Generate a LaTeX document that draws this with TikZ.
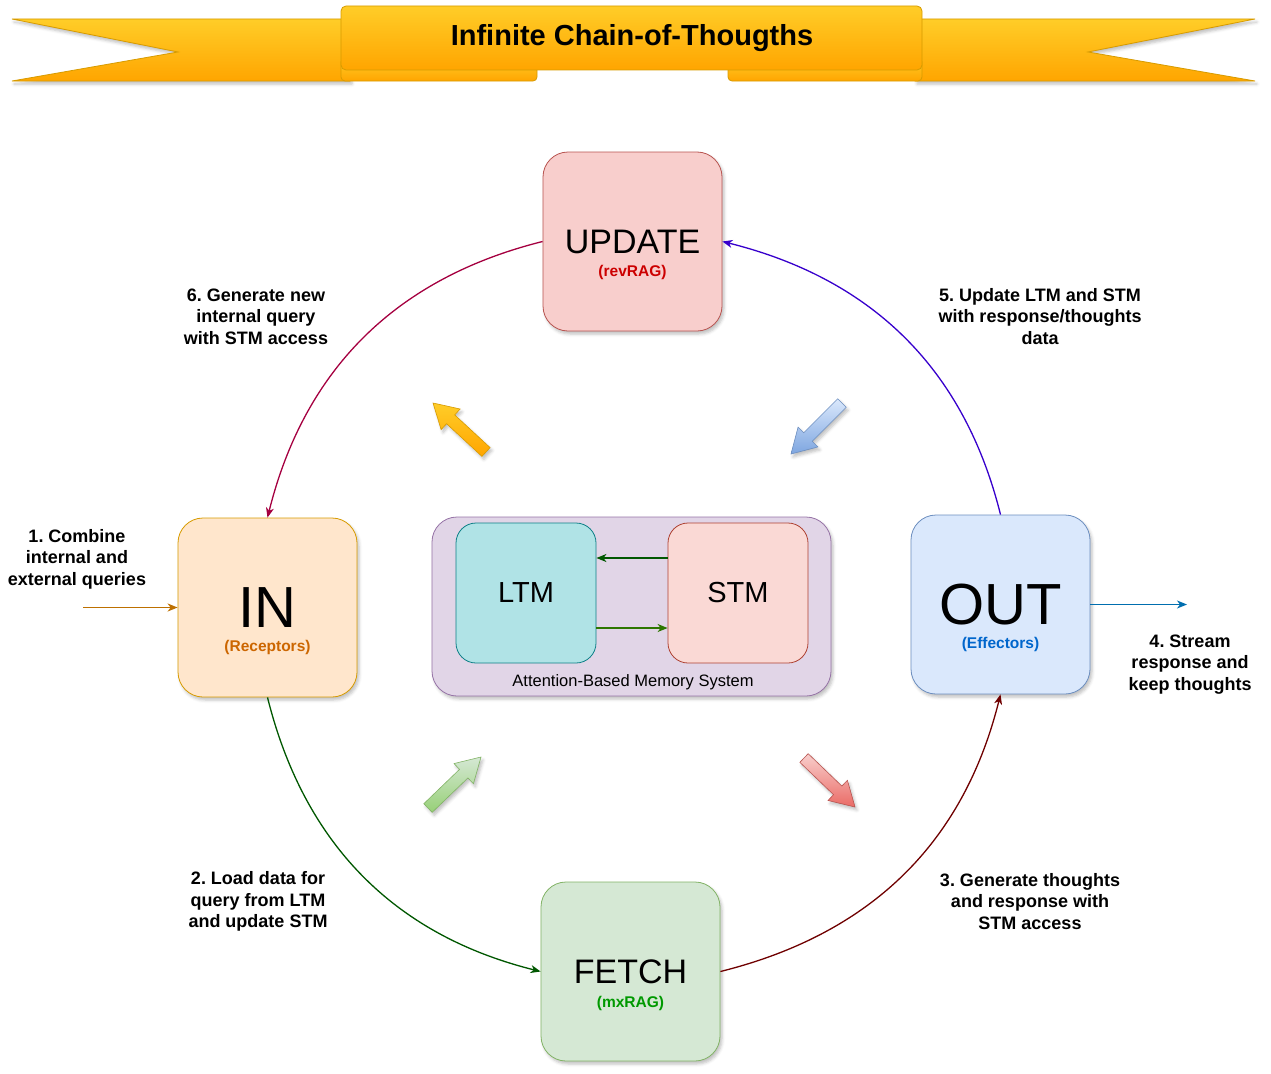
\documentclass[tikz,border=0pt]{standalone}
\usepackage{fontspec}
\setmainfont{Liberation Sans}
\usetikzlibrary{arrows.meta,positioning,calc,shadows.blur}
\frenchspacing

% colours
\definecolor{ribtop}{HTML}{FFCD28}
\definecolor{ribbot}{HTML}{FFA500}
\definecolor{ribline}{HTML}{D79B00}
\definecolor{updfill}{HTML}{F8CECC}
\definecolor{updline}{HTML}{B85450}
\definecolor{infill}{HTML}{FFE6CC}
\definecolor{inline}{HTML}{D79B00}
\definecolor{outfill}{HTML}{DAE8FC}
\definecolor{outline}{HTML}{6C8EBF}
\definecolor{fetfill}{HTML}{D5E8D4}
\definecolor{fetline}{HTML}{82B366}
\definecolor{memfill}{HTML}{E1D5E7}
\definecolor{memline}{HTML}{9673A6}
\definecolor{ltmfill}{HTML}{B0E3E6}
\definecolor{ltmline}{HTML}{0E8088}
\definecolor{stmfill}{HTML}{FAD9D5}
\definecolor{stmline}{HTML}{AE4132}
\definecolor{revred}{HTML}{CC0000}
\definecolor{recorange}{HTML}{CC6600}
\definecolor{effblue}{HTML}{0066CC}
\definecolor{mxgreen}{HTML}{009900}
\definecolor{toin}{HTML}{A50040}
\definecolor{tofetch}{HTML}{005700}
\definecolor{toout}{HTML}{6F0000}
\definecolor{toupd}{HTML}{3700CC}
\definecolor{qincol}{HTML}{BD7000}
\definecolor{qoutcol}{HTML}{006EAF}
\definecolor{memgreen}{HTML}{005700}
\definecolor{memgreenb}{HTML}{2D7600}
\definecolor{bluetop}{HTML}{DAE8FC}
\definecolor{bluebot}{HTML}{7EA6E0}
\definecolor{greentop}{HTML}{D5E8D4}
\definecolor{greenbot}{HTML}{97D077}
\definecolor{redtop}{HTML}{F8CECC}
\definecolor{redbot}{HTML}{EA6B66}

% block arrow from tail #1 to tip #2
\newcommand{\blockarrow}[3]{%
  \coordinate (ba-b) at ($(#2)!24pt!(#1)$);
  \path[#3] ($(#1)!6pt!90:(#2)$) -- ($(ba-b)!6pt!90:(#2)$)
    -- ($(ba-b)!14pt!90:(#2)$) -- (#2) -- ($(ba-b)!14pt!-90:(#2)$)
    -- ($(ba-b)!6pt!-90:(#2)$) -- ($(#1)!6pt!-90:(#2)$) -- cycle;}

\begin{document}
\begin{tikzpicture}[
  x=1pt, y=1pt,
  >={Stealth[length=10pt,width=8pt,inset=3pt]},
  shadowed/.style={blur shadow={shadow xshift=2pt, shadow yshift=-3pt,
      shadow blur radius=3pt, shadow opacity=25}},
  box/.style={draw, rounded corners=25pt, minimum width=179pt, minimum height=179pt,
      line width=0.8pt, inner sep=0pt, shadowed},
  word/.style={font=\fontsize{34}{36}\selectfont},
  bigword/.style={font=\fontsize{58}{60}\selectfont},
  sub/.style={font=\bfseries\fontsize{15.5}{17}\selectfont, inner sep=0pt},
  cell/.style={draw, rounded corners=20pt, minimum width=140pt, minimum height=140pt,
      line width=0.8pt, inner sep=0pt, font=\fontsize{29}{31}\selectfont},
  lbl/.style={font=\bfseries\fontsize{18}{21.5}\selectfont, align=center, inner sep=0pt},
  link/.style={->, line width=1.3pt},
  ribbon/.style={top color=ribtop, bottom color=ribbot, draw=ribline, line width=0.8pt},
  arrowshape/.style={line width=0.6pt, shadowed}
]
  \useasboundingbox (0,0) rectangle (1271,-1073);

  % title banner
  \path[ribbon, shadowed] (12,-19) -- (350,-19) -- (350,-81) -- (12,-81) -- (178,-52) -- cycle;
  \path[ribbon, shadowed] (915,-19) -- (1255,-19) -- (1088,-52) -- (1255,-81) -- (915,-81) -- cycle;
  \path[ribbon, rounded corners=4pt] (341,-58) rectangle (537,-81);
  \path[ribbon, rounded corners=4pt] (728,-58) rectangle (922,-81);
  \path[ribbon, rounded corners=5pt] (341,-6) rectangle (922,-70);
  \node[font=\bfseries\fontsize{29}{31}\selectfont] (title) at (632,-38) {Infinite Chain-of-Thougths};

  % main stages
  \node[box, word, fill=updfill, draw=updline] (update) at (632.5,-241.5) {UPDATE};
  \node[sub, text=revred] (update-sub) at ([yshift=-31pt]update.center) {(revRAG)};
  \node[box, bigword, fill=infill, draw=inline] (in) at (267.5,-607.5) {IN};
  \node[sub, text=recorange] (in-sub) at ([yshift=-40pt]in.center) {(Receptors)};
  \node[box, bigword, fill=outfill, draw=outline] (out) at (1000.5,-604.5) {OUT};
  \node[sub, text=effblue] (out-sub) at ([yshift=-39.5pt]out.center) {(Effectors)};
  \node[box, word, fill=fetfill, draw=fetline] (fetch) at (630.5,-971.5) {FETCH};
  \node[sub, text=mxgreen] (fetch-sub) at ([yshift=-32pt]fetch.center) {(mxRAG)};

  % memory system
  \node[draw=memline, fill=memfill, rounded corners=25pt, minimum width=399pt,
        minimum height=179pt, line width=0.8pt, shadowed] (memsys) at (631.5,-606.5) {};
  \node[cell, fill=ltmfill, draw=ltmline] (ltm) at (526,-593) {LTM};
  \node[cell, fill=stmfill, draw=stmline] (stm) at (738,-593) {STM};
  \node[font=\fontsize{16.5}{18}\selectfont, inner sep=0pt] (memlabel) at (633,-682)
    {Attention-Based Memory System};
  \draw[link, memgreen] ([yshift=35pt]stm.west) -- ([yshift=35pt]ltm.east);
  \draw[link, memgreenb] ([yshift=-35pt]ltm.east) -- ([yshift=-35pt]stm.west);

  % cycle
  \draw[link, toin] (update.west) to[out=194, in=76] (in.north);
  \draw[link, tofetch] (in.south) to[out=284, in=166] (fetch.west);
  \draw[link, toout] (fetch.east) to[out=14, in=256] (out.south);
  \draw[link, toupd] (out.north) to[out=104, in=346] (update.east);

  % external in / out
  \coordinate (qin) at (83,-607.5);
  \coordinate (qout) at (1187,-604.5);
  \draw[link, qincol] (qin) -- (in.west);
  \draw[link, qoutcol] (out.east) -- (qout);

  % step labels
  \node[lbl] (step1) at (77,-559) {1. Combine\\internal and\\external queries};
  \node[lbl] (step2) at (258,-901.5) {2. Load data for\\query from LTM\\and update STM};
  \node[lbl] (step3) at (1030,-901.5) {3. Generate thoughts\\and response with\\STM access};
  \node[lbl] (step4) at (1190,-664.5) {4. Stream\\response and\\keep thoughts};
  \node[lbl] (step5) at (1040,-316.5) {5. Update LTM and STM\\with response/thoughts\\data};
  \node[lbl] (step6) at (256,-316.5) {6. Generate new\\internal query\\with STM access};

  % flow arrows
  \coordinate (ya-t) at (486,-452); \coordinate (ya-h) at (433,-403);
  \coordinate (ba-t) at (842,-403); \coordinate (ba-h) at (791,-454);
  \coordinate (ga-t) at (428,-808); \coordinate (ga-h) at (481,-757);
  \coordinate (ra-t) at (804,-758); \coordinate (ra-h) at (855,-807);
  \blockarrow{ya-t}{ya-h}{arrowshape, top color=ribtop, bottom color=ribbot, draw=ribline}
  \blockarrow{ba-t}{ba-h}{arrowshape, top color=bluetop, bottom color=bluebot, draw=outline}
  \blockarrow{ga-t}{ga-h}{arrowshape, top color=greentop, bottom color=greenbot, draw=fetline}
  \blockarrow{ra-t}{ra-h}{arrowshape, top color=redtop, bottom color=redbot, draw=updline}
\end{tikzpicture}
\end{document}
